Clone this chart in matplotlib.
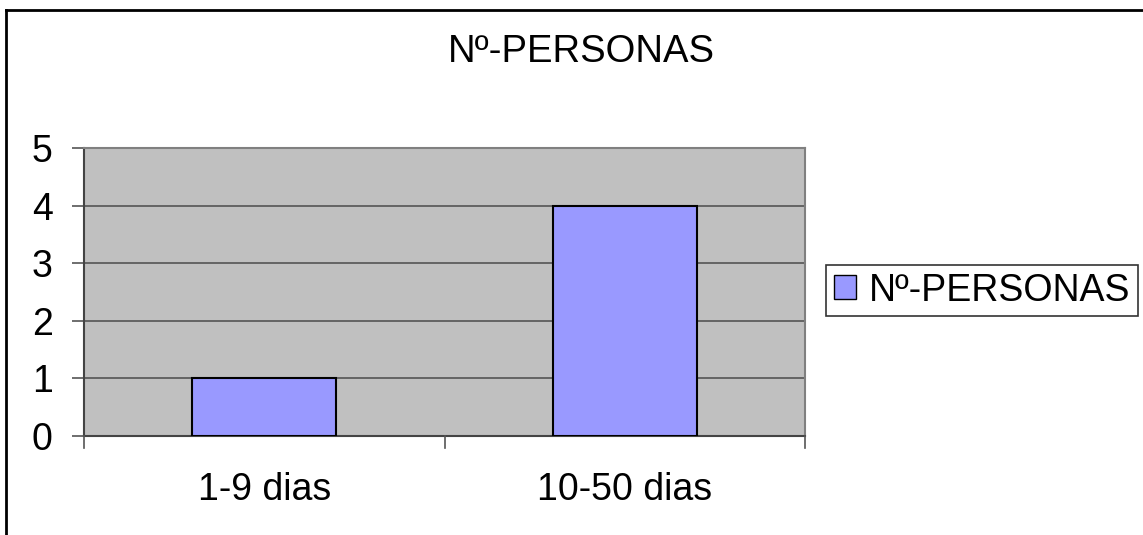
import matplotlib.pyplot as plt
from matplotlib.patches import Patch

categories = ['1-9 dias', '10-50 dias']
personas = [1, 4]
yticks = [0, 1, 2, 3, 4, 5]
title = 'Nº-PERSONAS'

plt.rcParams['font.family'] = ['Liberation Sans', 'DejaVu Sans']

fig = plt.figure(figsize=(11.43, 5.35), dpi=100)
ax = fig.add_axes([0.0735, 0.185, 0.6308, 0.5383])
ax.set_facecolor('#c0c0c0')

x = list(range(len(categories)))
ax.bar(x, personas, width=0.4, color='#9999ff', edgecolor='black', linewidth=1.5, zorder=3)
ax.set_xlim(-0.5, len(categories) - 0.5)
ax.set_ylim(0, 5)
ax.set_yticks(yticks)
ax.set_yticklabels([str(t) for t in yticks], fontsize=27)
ax.yaxis.grid(True, color='#555555', linewidth=1.2, zorder=1)

ax.set_xticks(x)
ax.set_xticklabels(categories, fontsize=27)
ax.tick_params(axis='x', length=0, pad=26)
ax.tick_params(axis='y', length=8.6, width=1.2, color='#555555', pad=14)

# category separator ticks at the bottom
for b in [-0.5, 0.5, 1.5]:
    ax.plot([b, b], [0, -0.04 * 5], color='#555555', lw=1.2, clip_on=False, zorder=4)

for s in ['top', 'right']:
    ax.spines[s].set_color('#808080')
    ax.spines[s].set_linewidth(1.5)
ax.spines['left'].set_color('#444444')
ax.spines['left'].set_linewidth(1.5)
ax.spines['bottom'].set_color('#444444')
ax.spines['bottom'].set_linewidth(1.5)

fig.text(0.509, 0.903, title, fontsize=27.5, ha='center', va='center')

handles = [Patch(facecolor='#9999ff', edgecolor='black', label=title)]
leg = fig.legend(handles=handles, loc='center left', bbox_to_anchor=(0.7227, 0.457),
                 fontsize=27, frameon=True, fancybox=False, handlelength=0.6,
                 handleheight=0.6, handletextpad=0.35, borderpad=0.2,
                 borderaxespad=0)
leg.get_frame().set_edgecolor('black')
leg.get_frame().set_linewidth(1.2)

# outer chart border (left and top visible)
fig.add_artist(plt.Line2D([0.0055, 0.0055], [0, 0.982], color='black', lw=2, transform=fig.transFigure))
fig.add_artist(plt.Line2D([0.0055, 1], [0.982, 0.982], color='black', lw=2, transform=fig.transFigure))

fig.savefig('out.png', dpi=100, facecolor='white')
